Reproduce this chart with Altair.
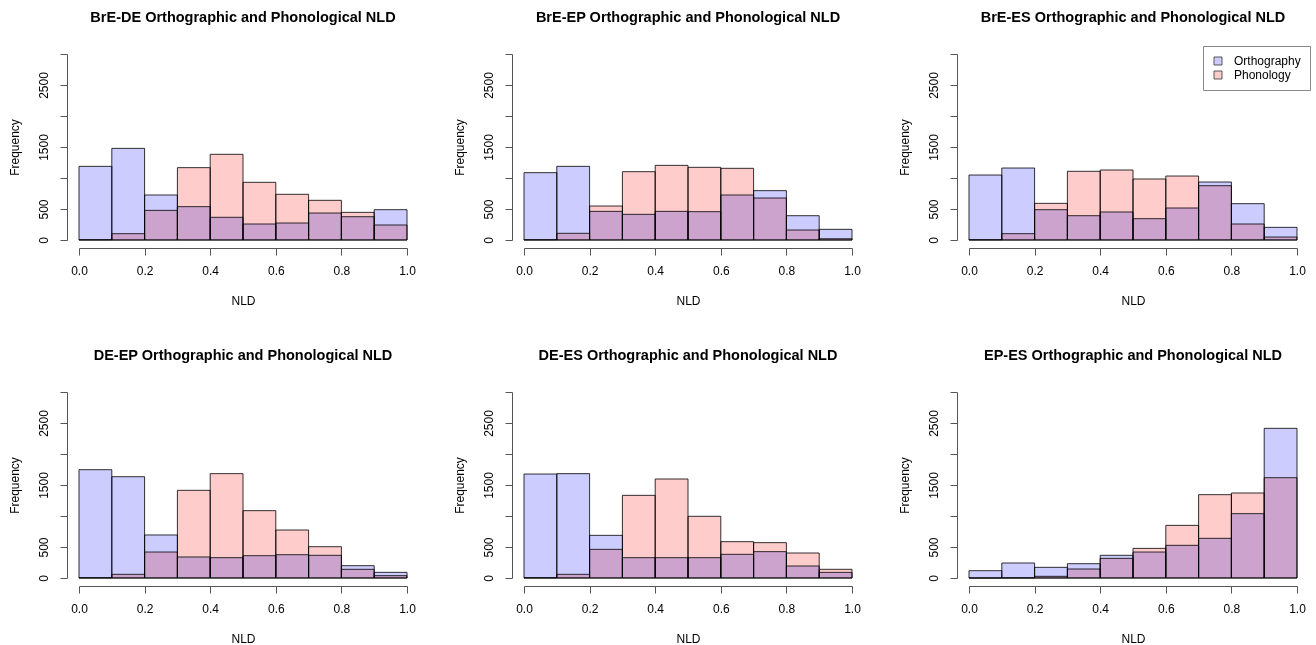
import altair as alt
import pandas as pd

bin_starts = [0.0, 0.1, 0.2, 0.3, 0.4, 0.5, 0.6, 0.7, 0.8, 0.9]
titles = [
    "BrE-DE Orthographic and Phonological NLD",
    "BrE-EP Orthographic and Phonological NLD",
    "BrE-ES Orthographic and Phonological NLD",
    "DE-EP Orthographic and Phonological NLD",
    "DE-ES Orthographic and Phonological NLD",
    "EP-ES Orthographic and Phonological NLD",
]
ortho_brede = [1188, 1478, 726, 538, 366, 258, 274, 435, 376, 489]
phon_brede = [5, 102, 478, 1167, 1382, 930, 737, 640, 446, 242]
ortho_breep = [1086, 1188, 462, 414, 462, 457, 726, 796, 392, 172]
phon_breep = [5, 108, 548, 1102, 1204, 1172, 1156, 677, 161, 20]
ortho_brees = [1048, 1161, 489, 392, 452, 344, 516, 935, 586, 204]
phon_brees = [5, 102, 591, 1108, 1129, 984, 1032, 876, 258, 48]
ortho_deep = [1747, 1634, 694, 339, 328, 360, 376, 366, 199, 91]
phon_deep = [5, 59, 419, 1414, 1683, 1086, 774, 505, 140, 38]
ortho_dees = [1677, 1683, 688, 328, 328, 328, 382, 425, 194, 91]
phon_dees = [5, 59, 462, 1333, 1597, 995, 586, 570, 403, 140]
ortho_epes = [118, 242, 172, 231, 366, 419, 527, 640, 1038, 2414]
phon_epes = [0, 3, 27, 145, 317, 478, 849, 1344, 1371, 1618]

series = [
    (ortho_brede, phon_brede),
    (ortho_breep, phon_breep),
    (ortho_brees, phon_brees),
    (ortho_deep, phon_deep),
    (ortho_dees, phon_dees),
    (ortho_epes, phon_epes),
]

FONT = "Liberation Sans"
AXCOL = "#555555"

def panel(title, ortho, phon):
    rows = []
    for name, vals in (("Orthography", ortho), ("Phonology", phon)):
        for i, (b, v) in enumerate(zip(bin_starts, vals)):
            rows.append({"series": name, "order": (0 if name == "Orthography" else 1) * 100 + i,
                         "start": b, "end": round(b + 0.1, 1), "count": v})
    df = pd.DataFrame(rows)
    return alt.Chart(df).mark_bar(
        stroke="black", strokeWidth=1, strokeOpacity=0.8, blend="multiply"
    ).encode(
        x=alt.X("start:Q", scale=alt.Scale(domain=[0, 1], nice=False, zero=False),
                axis=alt.Axis(values=[0, 0.2, 0.4, 0.6, 0.8, 1.0], format=".1f",
                              title="NLD", offset=8, tickSize=7, labelPadding=10,
                              labelFlush=False, grid=False, titlePadding=19)),
        x2="end:Q",
        y=alt.Y("count:Q", stack=None, scale=alt.Scale(domain=[0, 3000], nice=False),
                axis=alt.Axis(values=[0, 500, 1000, 1500, 2000, 2500, 3000],
                              labelExpr="(datum.value == 1000 || datum.value == 2000 || datum.value == 3000) ? '' : datum.label",
                              format="d", title="Frequency", offset=12, tickSize=7,
                              labelAngle=270, labelAlign="center", labelBaseline="bottom",
                              labelPadding=10, grid=False, titlePadding=16, labelOverlap=False)),
        y2=alt.datum(0),
        color=alt.Color("series:N",
                        scale=alt.Scale(domain=["Orthography", "Phonology"], range=["#ccccff", "#ffcccc"]),
                        legend=alt.Legend(title=None, orient="none", legendX=1124, legendY=-8,
                                          symbolType="square", symbolSize=64,
                                          symbolStrokeColor="#333333", symbolStrokeWidth=0.8,
                                          labelFont=FONT, labelFontSize=12, labelColor="black",
                                          labelOffset=10,
                                          strokeColor="#888888", padding=9, rowPadding=2)),
        order=alt.Order("order:Q"),
    ).properties(
        width=328, height=186,
        title=alt.TitleParams(title, fontSize=14.5, font=FONT, fontWeight="bold",
                              anchor="middle", offset=28, color="black"),
    )

panels = [panel(t, o, p) for t, (o, p) in zip(titles, series)]

chart = alt.concat(*panels, columns=3, spacing={"row": 42, "column": 36}).configure_view(
    strokeWidth=0
).configure_axis(
    labelFont=FONT, titleFont=FONT, labelFontSize=12, titleFontSize=12,
    labelColor="black", titleColor="black", titleFontWeight="normal",
    domainColor=AXCOL, tickColor=AXCOL,
).properties(padding={"left": 7, "top": 10, "right": 0, "bottom": 0})

chart.save("out.html", embed_options={"renderer": "svg", "actions": False})
